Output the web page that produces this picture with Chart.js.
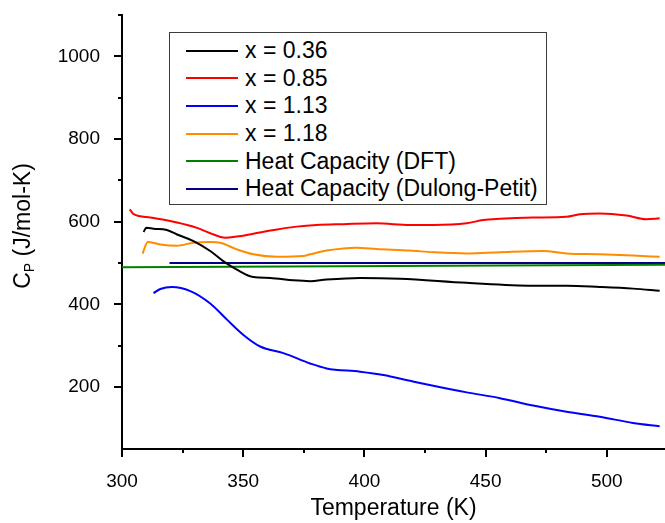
<!DOCTYPE html>
<html>
<head>
<meta charset="utf-8">
<script src="https://cdn.jsdelivr.net/npm/chart.js@4.4.0/dist/chart.umd.min.js"></script>
<style>
  html, body { margin: 0; padding: 0; background: #fff; }
  #wrap { position: relative; width: 665px; height: 523px; overflow: hidden; }
  #cpChart { position: absolute; left: 0; top: 0; }
  #legend {
    position: absolute; left: 169px; top: 32px; width: 376px;
    padding: 4px 0 1px 0; border: 1px solid #3c3c3c; background: #fff;
    font-family: 'Liberation Sans', Arial, sans-serif; font-size: 23px; color: #000;
  }
  .row { display: flex; align-items: center; height: 27.6px; white-space: nowrap; }
  .swatch { width: 52px; height: 2px; margin-left: 16px; margin-right: 7px; }
</style>
</head>
<body>
<div id="wrap">
  <canvas id="cpChart" width="665" height="523"></canvas>
  <div id="legend"></div>
</div>
<script>
// Chart data (temperature in K, heat capacity in J/mol-K)
const seriesLabels = ['x = 0.36', 'x = 0.85', 'x = 1.13', 'x = 1.18', 'Heat Capacity (DFT)', 'Heat Capacity (Dulong-Petit)'];

const temp036 = [308.9, 310, 313, 318.5, 322.7, 329.5, 336.4, 341.9, 347.4, 354.2, 361.1, 370.7, 377.6, 384.4, 398.2, 414.7, 442.2, 469.6, 483.4, 497.1, 510.8, 521.8];
const cp036   = [575, 585, 583, 580, 569, 553, 529, 504, 484, 466, 464, 458, 456, 460, 464, 462, 452, 445, 445, 442, 438, 433];

const temp085 = [303.2, 304.8, 311.7, 322.7, 330.9, 336.4, 342.6, 347.4, 354.2, 363.9, 372.1, 380.3, 391.3, 405, 418.8, 428.4, 442.2, 449, 455.9, 469.6, 483.4, 488.8, 497.1, 508.1, 516.3, 521.8];
const cp085   = [630, 618, 610, 598, 585, 572, 561, 564, 571, 581, 588, 592, 594, 596, 592, 592, 596, 604, 607, 610, 612, 618, 620, 615, 606, 608];

const temp113 = [313, 315.8, 320.6, 328.2, 336.4, 343.3, 350.1, 357, 366.6, 377.6, 384.4, 398.2, 407.8, 418.8, 428.4, 442.2, 455.9, 469.6, 483.4, 497.1, 510.8, 521.8];
const cp113   = [427, 437, 442, 432, 402, 363, 326, 298, 282, 257, 245, 237, 229, 215, 203, 187, 173, 155, 140, 128, 113, 105];

const temp118 = [308.5, 310.6, 315.8, 322.7, 329.5, 336.4, 340.5, 347.4, 354.2, 363.9, 374.8, 377.6, 384.4, 396.8, 405, 418.8, 428.4, 442.2, 455.9, 473.7, 483.4, 497.1, 510.8, 521.8];
const cp118   = [523, 551, 545, 542, 549, 551, 549, 533, 521, 515, 517, 521, 530, 537, 534, 530, 526, 523, 526, 529, 523, 521, 518, 515];

const tempDFT = [300, 524];
const cpDFT   = [490, 496];

const tempDP = [319.6, 524];
const cpDP   = [500, 500];

const seriesColors = ['#000000', '#ff0000', '#0000ff', '#ff8c00', '#008000', '#000080'];

const FONT = "'Liberation Sans', Arial, sans-serif";

function toPoints(xs, ys) {
    return xs.map((x, i) => ({ x: x, y: ys[i] }));
}

const allSeries = [
    toPoints(temp036, cp036),
    toPoints(temp085, cp085),
    toPoints(temp113, cp113),
    toPoints(temp118, cp118),
    toPoints(tempDFT, cpDFT),
    toPoints(tempDP, cpDP)
];

// ticks (major longer, minor shorter) + y title with subscript
const axisExtras = {
    id: 'axisExtras',
    afterDraw(chart) {
        const ctx = chart.ctx;
        const xs = chart.scales.x;
        const ys = chart.scales.y;
        ctx.save();
        ctx.strokeStyle = '#000';
        ctx.lineWidth = 2;
        ctx.beginPath();
        xs.ticks.forEach(t => {
            const px = Math.round(xs.getPixelForValue(t.value));
            const len = t.value % 50 === 0 ? 8 : 4;
            ctx.moveTo(px, xs.top);
            ctx.lineTo(px, xs.top + len);
        });
        ys.ticks.forEach(t => {
            const py = Math.round(ys.getPixelForValue(t.value));
            const len = t.value % 200 === 0 ? 8 : 4;
            ctx.moveTo(ys.right, py);
            ctx.lineTo(ys.right - len, py);
        });
        ctx.stroke();

        // y axis title: C_P (J/mol-K)
        ctx.fillStyle = '#000';
        ctx.textBaseline = 'alphabetic';
        ctx.font = '23px ' + FONT;
        const wC = ctx.measureText('C').width;
        const wRest = ctx.measureText(' (J/mol-K)').width;
        ctx.font = '14px ' + FONT;
        const wP = ctx.measureText('P').width;
        const total = wC + wP + wRest;
        ctx.translate(23, 226);
        ctx.rotate(-Math.PI / 2);
        let x0 = -total / 2;
        ctx.font = '23px ' + FONT;
        ctx.fillText('C', x0, 7);
        ctx.font = '14px ' + FONT;
        ctx.fillText('P', x0 + wC, 11);
        ctx.font = '23px ' + FONT;
        ctx.fillText(' (J/mol-K)', x0 + wC + wP, 7);
        ctx.restore();
    }
};

const ctx = document.getElementById('cpChart').getContext('2d');
const cpChart = new Chart(ctx, {
    type: 'line',
    data: {
        datasets: allSeries.map((pts, i) => ({
            label: seriesLabels[i],
            data: pts,
            borderColor: seriesColors[i],
            backgroundColor: seriesColors[i],
            borderWidth: 2,
            pointRadius: 0,
            cubicInterpolationMode: 'monotone',
            fill: false
        }))
    },
    options: {
        responsive: false,
        animation: false,
        devicePixelRatio: 1,
        layout: { padding: { top: 15, right: 0, bottom: 0, left: 0 } },
        plugins: {
            legend: { display: false },
            tooltip: { enabled: false }
        },
        scales: {
            x: {
                type: 'linear',
                min: 300,
                max: 524,
                grid: { display: false },
                border: { display: true, color: '#000', width: 2 },
                afterBuildTicks: scale => {
                    scale.ticks = scale.ticks.filter(t => t.value % 25 === 0);
                },
                afterFit: scale => {
                    scale.height = 74;
                    scale.paddingLeft = 0;
                    scale.paddingRight = 0;
                },
                ticks: {
                    stepSize: 25,
                    autoSkip: false,
                    maxRotation: 0,
                    padding: 13,
                    color: '#000',
                    font: { family: FONT, size: 19 },
                    callback: v => (v % 50 === 0 ? v : '')
                },
                title: {
                    display: true,
                    text: 'Temperature (K)',
                    color: '#000',
                    font: { family: FONT, size: 23 },
                    padding: { top: 0, bottom: 1 }
                }
            },
            y: {
                min: 50,
                max: 1100,
                grid: { display: false },
                border: { display: true, color: '#000', width: 2 },
                afterBuildTicks: scale => {
                    scale.ticks = scale.ticks.filter(t => t.value % 100 === 0);
                },
                afterFit: scale => {
                    scale.width = 122;
                    scale.paddingTop = 0;
                    scale.paddingBottom = 0;
                },
                ticks: {
                    stepSize: 100,
                    autoSkip: false,
                    padding: 14,
                    color: '#000',
                    font: { family: FONT, size: 19 },
                    callback: v => (v % 200 === 0 ? v : '')
                }
            }
        }
    },
    plugins: [axisExtras]
});

// Legend built from the datasets, placed inside the plot
const legendEl = document.getElementById('legend');
cpChart.data.datasets.forEach(ds => {
    const row = document.createElement('div');
    row.className = 'row';
    const sw = document.createElement('span');
    sw.className = 'swatch';
    sw.style.background = ds.borderColor;
    const txt = document.createElement('span');
    txt.textContent = ds.label;
    row.appendChild(sw);
    row.appendChild(txt);
    legendEl.appendChild(row);
});
</script>
</body>
</html>
